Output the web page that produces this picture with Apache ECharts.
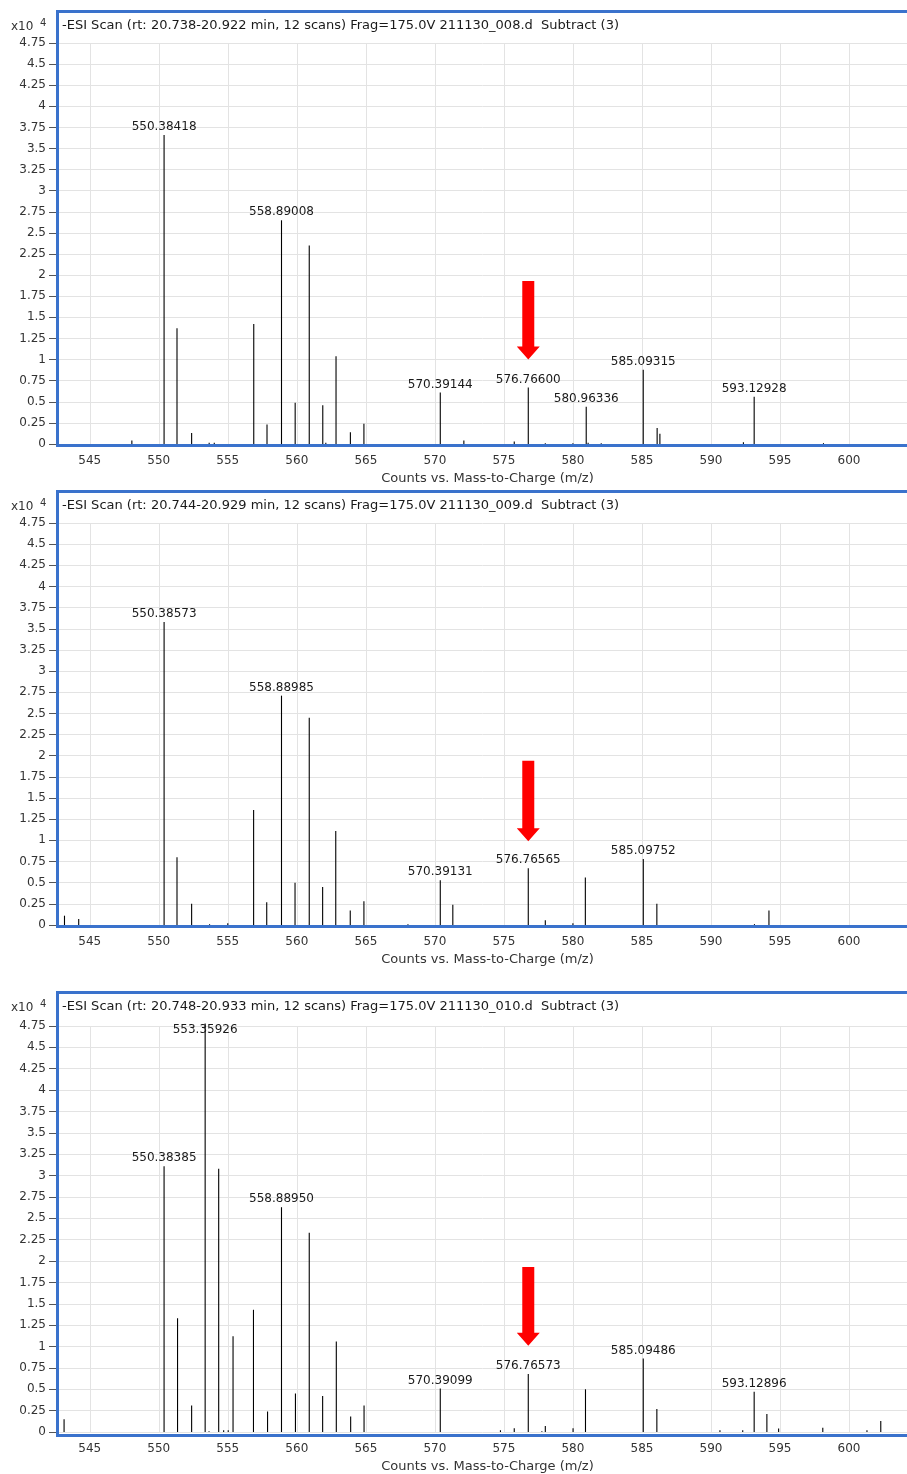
<!DOCTYPE html>
<html><head><meta charset="utf-8">
<script src="https://cdn.jsdelivr.net/npm/echarts@6/dist/echarts.min.js"></script>
<style>html,body{margin:0;padding:0;background:#fff}#c{width:907px;height:1474px}</style>
</head><body><div id="c"></div>
<script>
// ---------- DATA ----------
const titles = [
  '-ESI Scan (rt: 20.738-20.922 min, 12 scans) Frag=175.0V 211130_008.d  Subtract (3)',
  '-ESI Scan (rt: 20.744-20.929 min, 12 scans) Frag=175.0V 211130_009.d  Subtract (3)',
  '-ESI Scan (rt: 20.748-20.933 min, 12 scans) Frag=175.0V 211130_010.d  Subtract (3)'
];
const xAxisName = 'Counts vs. Mass-to-Charge (m/z)';
const yScaleLabel = 'x10';
const yScaleExp = '4';

// Panel 1 (m/z, counts x10^4)
const mz1 = [548.05, 550.38418, 551.32, 552.38, 553.65, 554.02, 556.88, 557.84, 558.89008, 559.88, 560.9, 561.88, 562.1, 562.84, 563.88, 564.86, 570.39144, 572.1, 575.75, 576.766, 578.0, 580.0, 580.96336, 581.1, 582.05, 585.09315, 586.1, 586.3, 592.35, 593.12928, 598.15];
const int1 = [0.04, 3.66, 1.37, 0.13, 0.015, 0.015, 1.42, 0.23, 2.65, 0.49, 2.35, 0.46, 0.015, 1.04, 0.14, 0.24, 0.61, 0.04, 0.03, 0.67, 0.01, 0.01, 0.44, 0.015, 0.01, 0.88, 0.19, 0.12, 0.02, 0.56, 0.01];
const lab1 = ['550.38418', '558.89008', '570.39144', '576.76600', '580.96336', '585.09315', '593.12928'];

// Panel 2
const mz2 = [543.17, 544.2, 550.38573, 551.32, 552.38, 553.68, 555.0, 556.87, 557.82, 558.88985, 559.87, 560.9, 561.87, 562.82, 563.87, 564.86, 568.05, 570.39131, 571.3, 576.76565, 578.0, 580.0, 580.9, 585.09752, 586.08, 593.15, 594.2];
const int2 = [0.11, 0.07, 3.58, 0.80, 0.25, 0.01, 0.02, 1.36, 0.27, 2.71, 0.50, 2.45, 0.45, 1.11, 0.17, 0.28, 0.01, 0.53, 0.24, 0.67, 0.055, 0.02, 0.56, 0.78, 0.25, 0.01, 0.17];
const lab2 = ['550.38573', '558.88985', '570.39131', '576.76565', '585.09752'];

// Panel 3
const mz3 = [543.14, 550.38385, 551.36, 552.38, 553.35926, 553.64, 554.34, 554.7, 555.03, 555.38, 556.86, 557.88, 558.8895, 559.9, 560.9, 561.87, 562.86, 563.9, 564.87, 570.39099, 574.75, 575.75, 576.76573, 577.75, 578.0, 580.01, 580.91, 585.09486, 586.08, 590.65, 592.3, 593.12896, 594.05, 594.9, 598.1, 601.3, 602.3];
const int3 = [0.15, 3.11, 1.33, 0.31, 4.78, 0.01, 3.08, 0.02, 0.02, 1.12, 1.43, 0.24, 2.63, 0.45, 2.33, 0.42, 1.06, 0.18, 0.31, 0.51, 0.02, 0.045, 0.68, 0.01, 0.07, 0.045, 0.50, 0.86, 0.27, 0.02, 0.02, 0.47, 0.21, 0.04, 0.05, 0.02, 0.13];
const lab3 = ['553.35926', '550.38385', '558.88950', '570.39099', '576.76573', '585.09486', '593.12896'];

// Red arrow annotation (m/z, from, to) per panel
const arrowMz = [576.766, 576.766, 576.766];
const arrowFrom = [1.93, 1.94, 1.93];
const arrowTo = [1.0, 0.99, 1.01];

// Axis ranges
const xMin = 542.7, xMax = 604.2;
const yMin = 0, yMax = 4.75, yStep = 0.25;

// ---------- LAYOUT / STYLE ----------
const FONT = 'DejaVu Sans';
const BLUE = '#3a72cc';
const GRIDC = '#e3e3e3';
const layout = [
  {frameTop: 11.5, plotTop: 43, plotBottom: 444},
  {frameTop: 491.5, plotTop: 523, plotBottom: 925},
  {frameTop: 992.5, plotTop: 1026, plotBottom: 1434}
];
const plotLeft = 58;
const panels = [
  {mz: mz1, it: int1, lab: lab1},
  {mz: mz2, it: int2, lab: lab2},
  {mz: mz3, it: int3, lab: lab3}
];

const grids = [], xAxes = [], yAxes = [], series = [], graphics = [];

panels.forEach((p, i) => {
  const L = layout[i];
  grids.push({left: plotLeft, right: 0, top: L.plotTop, height: L.plotBottom - L.plotTop, containLabel: false});
  xAxes.push({
    type: 'value', gridIndex: i, min: xMin, max: xMax, minInterval: 5, maxInterval: 5, splitNumber: 12,
    axisLine: {show: false}, axisTick: {show: false},
    splitLine: {show: true, lineStyle: {color: GRIDC, width: 1}},
    axisLabel: {showMinLabel: false, showMaxLabel: false, margin: 11, fontSize: 12, color: '#333', fontFamily: FONT},
    name: xAxisName, nameLocation: 'middle', nameGap: 28,
    nameTextStyle: {fontSize: 13, color: '#333', fontFamily: FONT, padding: [0, 0, 0, 10]}
  });
  yAxes.push({
    type: 'value', gridIndex: i, min: yMin, max: yMax, interval: yStep,
    axisLine: {show: false},
    axisTick: {show: true, length: 9, lineStyle: {color: '#555'}},
    splitLine: {show: true, lineStyle: {color: GRIDC, width: 1}},
    axisLabel: {margin: 12, fontSize: 12, color: '#333', fontFamily: FONT}
  });

  const stemData = p.mz.map((m, k) => [m, p.it[k]]);
  series.push({
    type: 'custom', xAxisIndex: i, yAxisIndex: i, clip: false, z: 3, silent: true,
    data: stemData,
    renderItem: (params, api) => {
      const x = api.value(0), y = api.value(1);
      const a = api.coord([x, 0]), b = api.coord([x, y]);
      return {type: 'line', shape: {x1: a[0], y1: a[1], x2: b[0], y2: b[1]}, style: {stroke: '#000', lineWidth: 1.1}};
    }
  });

  const labData = p.lab.map(s => {
    const v = parseFloat(s);
    let best = 0;
    p.mz.forEach((m, k) => { if (Math.abs(m - v) < Math.abs(p.mz[best] - v)) best = k; });
    return [p.mz[best], p.it[best], s];
  });
  series.push({
    type: 'custom', xAxisIndex: i, yAxisIndex: i, clip: false, z: 5, silent: true,
    data: labData,
    renderItem: (params, api) => {
      const pt = api.coord([api.value(0), api.value(1)]);
      const cs = params.coordSys;
      const yy = Math.max(pt[1] - 2, cs.y + 10);
      return {type: 'text', x: pt[0], y: yy,
        style: {text: labData[params.dataIndex][2], fontSize: 12, fontFamily: FONT, fill: '#1a1a1a',
          align: 'center', verticalAlign: 'bottom', textAlign: 'center', textVerticalAlign: 'bottom'}};
    }
  });

  series.push({
    type: 'custom', xAxisIndex: i, yAxisIndex: i, clip: false, z: 6, silent: true,
    data: [[arrowMz[i], arrowFrom[i], arrowTo[i]]],
    renderItem: (params, api) => {
      const t = api.coord([api.value(0), api.value(1)]);
      const b = api.coord([api.value(0), api.value(2)]);
      const x = t[0], sw = 6, hw = 11.5, hh = 13;
      return {type: 'polygon', shape: {points: [
        [x - sw, t[1]], [x + sw, t[1]], [x + sw, b[1] - hh], [x + hw, b[1] - hh],
        [x, b[1]], [x - hw, b[1] - hh], [x - sw, b[1] - hh]
      ]}, style: {fill: '#ff0000'}};
    }
  });

  // frame, title, scale factor
  graphics.push({type: 'rect', silent: true, z: 10,
    shape: {x: plotLeft - 0.5, y: L.frameTop, width: 900, height: L.plotBottom + 1.5 - L.frameTop},
    style: {fill: null, stroke: BLUE, lineWidth: 3}});
  graphics.push({type: 'text', silent: true, z: 11, x: 62, y: L.frameTop + 14,
    style: {text: titles[i], font: '13px "' + FONT + '"', fill: '#1a1a1a', textVerticalAlign: 'middle', verticalAlign: 'middle'}});
  graphics.push({type: 'text', silent: true, z: 11, x: 11, y: L.frameTop + 15.5,
    style: {text: yScaleLabel, font: '12px "' + FONT + '"', fill: '#333', textVerticalAlign: 'middle', verticalAlign: 'middle'}});
  graphics.push({type: 'text', silent: true, z: 11, x: 40, y: L.frameTop + 11.5,
    style: {text: yScaleExp, font: '10px "' + FONT + '"', fill: '#333', textVerticalAlign: 'middle', verticalAlign: 'middle'}});
});

const chart = echarts.init(document.getElementById('c'), null, {renderer: 'canvas'});
chart.setOption({
  animation: false,
  backgroundColor: '#fff',
  grid: grids, xAxis: xAxes, yAxis: yAxes, series: series, graphic: graphics
});
</script></body></html>
